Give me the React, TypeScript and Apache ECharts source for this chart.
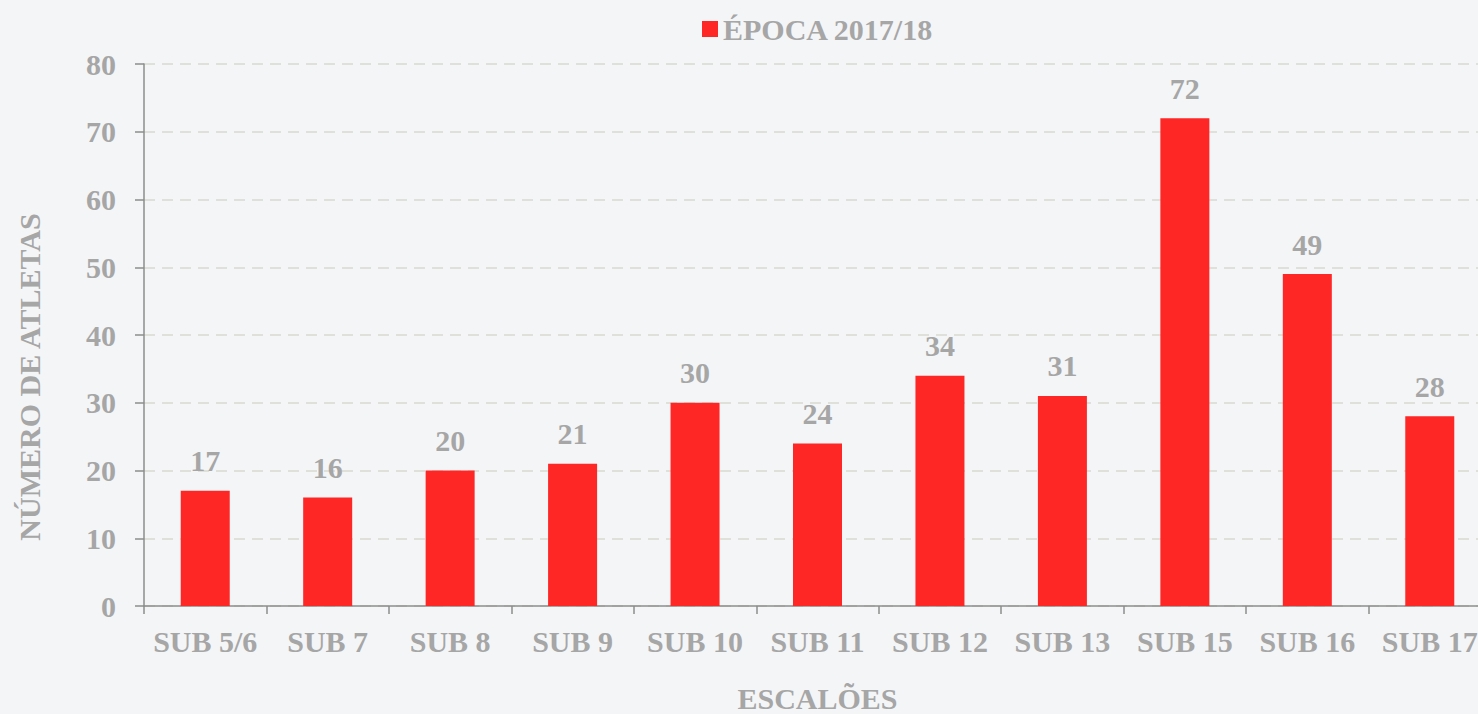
import React, { useEffect, useRef } from "react";
import * as echarts from "echarts";

const categories = ["SUB 5/6", "SUB 7", "SUB 8", "SUB 9", "SUB 10", "SUB 11", "SUB 12", "SUB 13", "SUB 15", "SUB 16", "SUB 17"];
const values = [17, 16, 20, 21, 30, 24, 34, 31, 72, 49, 28];
const seriesName = "ÉPOCA 2017/18";
const yAxisTitle = "NÚMERO DE ATLETAS";
const xAxisTitle = "ESCALÕES";

const FONT = "'Liberation Serif', 'Times New Roman', serif";
const GRAY = "#a6a6a6";

export default function App() {
  const ref = useRef<HTMLDivElement>(null);
  useEffect(() => {
    if (!ref.current) return;
    const chart = echarts.init(ref.current, undefined, { renderer: "svg" });
    chart.setOption({
      animation: false,
      backgroundColor: "#f4f5f7",
      textStyle: { fontFamily: FONT },
      legend: {
        top: 9,
        left: 697,
        itemWidth: 16,
        itemHeight: 16,
        itemGap: 10,
        icon: "rect",
        textStyle: { color: GRAY, fontSize: 30, fontWeight: "bold", fontFamily: FONT },
        data: [seriesName],
      },
      grid: { left: 144, right: -13, top: 64, bottom: 108, containLabel: false, outerBoundsMode: "none" },
      xAxis: {
        type: "category",
        data: categories,
        name: xAxisTitle,
        nameLocation: "middle",
        nameGap: 77,
        nameTextStyle: { color: GRAY, fontSize: 30, fontWeight: "bold", fontFamily: FONT },
        axisLine: { lineStyle: { color: "#8c8c8c", width: 1.5 } },
        axisTick: { show: true, length: 8, alignWithLabel: false, lineStyle: { color: "#8c8c8c", width: 1.5 } },
        axisLabel: { color: GRAY, fontSize: 30, fontWeight: "bold", fontFamily: FONT, margin: 20, interval: 0 },
      },
      yAxis: {
        type: "value",
        min: 0,
        max: 80,
        interval: 10,
        axisLine: { show: true, lineStyle: { color: "#8c8c8c", width: 1.5 } },
        axisTick: { show: true, length: 9, lineStyle: { color: "#8c8c8c", width: 1.5 } },
        axisLabel: { color: GRAY, fontSize: 30, fontWeight: "bold", fontFamily: FONT, margin: 28 },
        splitLine: { show: true, lineStyle: { color: "#d9d9d2", width: 1.5, type: [11, 7] } },
      },
      graphic: [
        {
          type: "text",
          x: 29,
          y: 377,
          rotation: Math.PI / 2,
          style: {
            text: yAxisTitle,
            fill: GRAY,
            font: `bold 30px ${FONT}`,
            align: "center",
            verticalAlign: "middle",
          },
        },
      ],
      series: [
        {
          name: seriesName,
          type: "bar",
          data: values,
          barWidth: 49,
          itemStyle: { color: "#ff2626" },
          label: {
            show: true,
            position: "top",
            distance: 15,
            color: GRAY,
            fontSize: 30,
            fontWeight: "bold",
            fontFamily: FONT,
          },
        },
      ],
    });
    return () => chart.dispose();
  }, []);
  return <div ref={ref} style={{ position: "fixed", left: 0, top: 0, width: 1478, height: 714 }} />;
}
